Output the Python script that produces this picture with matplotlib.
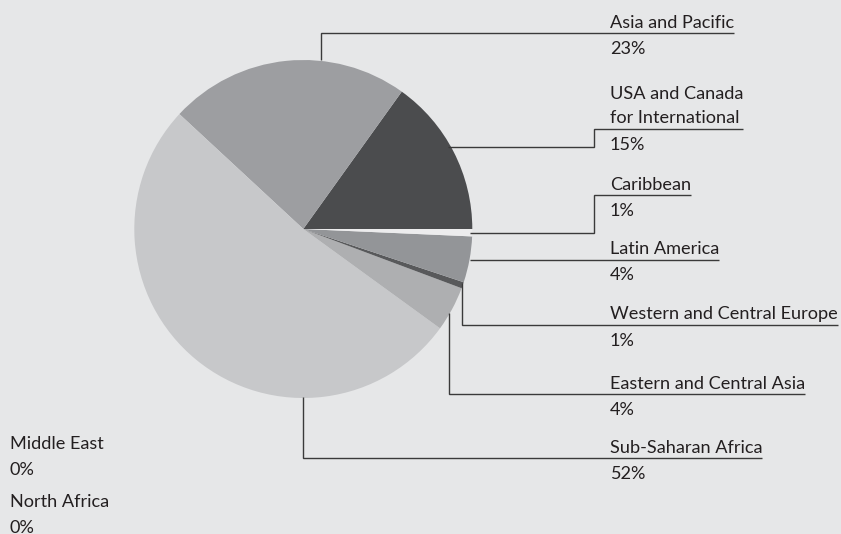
import matplotlib
matplotlib.use("Agg")
import matplotlib.pyplot as plt

# slice data, in drawing order (counter-clockwise from 3 o'clock)
regions = ["USA and Canada\nfor International", "Asia and Pacific", "Sub-Saharan Africa",
           "Eastern and Central Asia", "Western and Central Europe", "Latin America", "Caribbean"]
shares = [15.1, 23.0, 51.9, 4.3, 0.6, 4.4, 0.7]
slice_colors = ["#4b4c4e", "#9d9ea1", "#c7c8ca", "#aeafb1", "#58595b", "#939598", "#ececed"]

# regions with no share, listed bottom-left without leaders
zero_regions = ["Middle East", "North Africa"]
zero_shares = [0, 0]

W, H = 841, 534
BG = "#e6e7e8"
TXT = "#231f20"
LINE = "#3a3a3a"

fig = plt.figure(figsize=(W / 100, H / 100), dpi=100, facecolor=BG)
ax = fig.add_axes([0, 0, 1, 1])
ax.set_facecolor(BG)


def py(y):
    # pixel row (from top) -> data y
    return H - y


ax.pie(shares, colors=slice_colors, startangle=0, counterclock=True,
       center=(303.3, py(229)), radius=169, wedgeprops=dict(linewidth=0))
ax.set_xlim(0, W)
ax.set_ylim(0, H)
ax.set_aspect("equal")
ax.axis("off")

plt.rcParams["font.family"] = ["Lato", "DejaVu Sans"]
FS = 13.1

# leader routes (pixel coords from top-left), last point y is the underline row
routes = {
    "Asia and Pacific": [(321, 60), (321, 33.3)],
    "USA and Canada\nfor International": [(448, 147.3), (594, 147.3), (594, 128.7)],
    "Caribbean": [(470, 233.3), (594.3, 233.3), (594.3, 195)],
    "Latin America": [(470, 259.5), (610, 259.5)],
    "Western and Central Europe": [(462.3, 283), (462.3, 325)],
    "Eastern and Central Asia": [(449, 313), (449, 394.3)],
    "Sub-Saharan Africa": [(302.7, 397), (302.7, 458.3)],
}

fig.canvas.draw()
renderer = fig.canvas.get_renderer()
LX = 610
for name, share in zip(regions, shares):
    pts = routes[name]
    yl = pts[-1][1]
    t = ax.text(LX, py(yl - 5.5), name, fontsize=FS, color=TXT, ha="left", va="baseline",
                linespacing=1.6)
    ax.text(LX, py(yl + 21), f"{round(share):d}%", fontsize=FS, color=TXT,
            ha="left", va="baseline")
    bb = t.get_window_extent(renderer)
    x_end = min(bb.x1, W - 3)
    xs = [p[0] for p in pts] + [x_end]
    ys = [py(p[1]) for p in pts] + [py(yl)]
    ax.plot(xs, ys, color=LINE, lw=1.0, solid_capstyle="butt", solid_joinstyle="miter")

for i, (name, share) in enumerate(zip(zero_regions, zero_shares)):
    y0 = 449.3 + i * 58
    ax.text(10, py(y0), name, fontsize=FS, color=TXT, ha="left", va="baseline")
    ax.text(10, py(y0 + 25.7), f"{share}%", fontsize=FS, color=TXT, ha="left", va="baseline")

fig.savefig("out.png", dpi=100, facecolor=BG)
